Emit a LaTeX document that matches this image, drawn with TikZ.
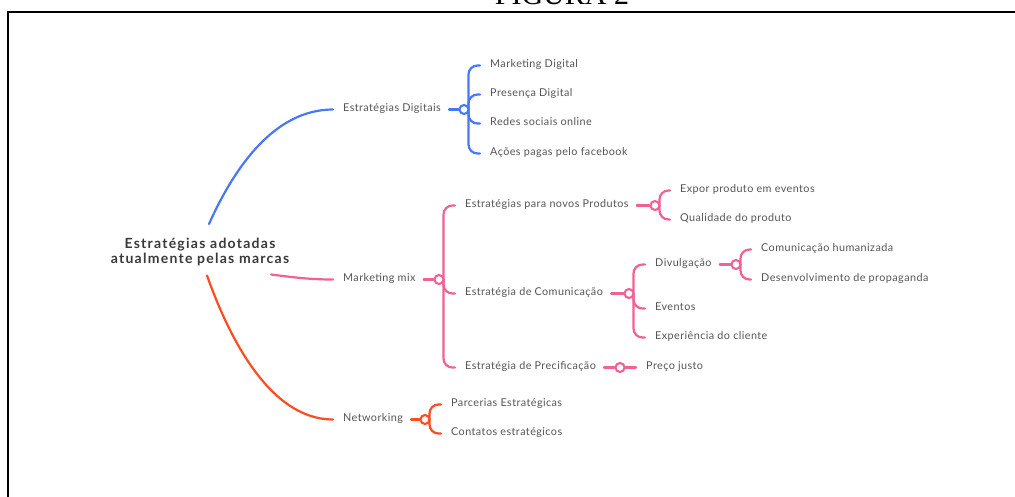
\documentclass[tikz,border=0pt]{standalone}
\usepackage{fontspec}
\setmainfont{Lato}
\newfontfamily\lblfont[LetterSpace=4]{Lato}
\newfontfamily\rootfont[LetterSpace=9]{Lato}
\newfontfamily\titlefont{Liberation Serif}
\usetikzlibrary{calc,backgrounds}
\definecolor{cblue}{RGB}{72,120,248}
\definecolor{cpink}{RGB}{240,98,148}
\definecolor{cred}{RGB}{250,78,34}
\definecolor{ctext}{RGB}{85,85,85}
\definecolor{croot}{RGB}{58,58,58}
\begin{document}
\begin{tikzpicture}[x=1pt,y=-1pt,
 lbl/.style={anchor=west, inner sep=0pt, text height=4pt, text depth=0pt,
   font=\lblfont\fontsize{10.8}{12}\selectfont, text=ctext},
 knot/.style={circle, fill=white, minimum size=9pt, inner sep=0pt, line width=2.1pt},
 link/.style={line width=2.2pt, line cap=round},
 arm/.style={line width=2.2pt, line cap=round, rounded corners=9pt},
]
\useasboundingbox (0,0) rectangle (1015,496);
% title and frame
\node[font=\titlefont\fontsize{30}{30}\selectfont, anchor=base, inner sep=0pt] (title) at (562,4) {FIGURA 2};
\draw[line width=1.6pt] (1016,12) -- (8,12) -- (8,497);
\begin{scope}[yshift=-1.5pt]
% root
\node[font=\rootfont\bfseries\fontsize{14}{15.5}\selectfont, text=croot, align=center, inner sep=0pt] (root) at (200,250.5) {Estratégias adotadas\\atualmente pelas marcas};
% blue branch
\node[lbl] (sD) at (343,108) {Estratégias Digitais};
\node[lbl] (m1) at (490,64) {Marketing Digital};
\node[lbl] (m2) at (490,93) {Presença Digital};
\node[lbl] (m3) at (490,122) {Redes sociais online};
\node[lbl] (m4) at (490,152) {Ações pagas pelo facebook};
\node[knot, draw=cblue] (kB) at (464,108) {};
% pink branch
\node[lbl] (mm) at (343,278) {Marketing mix};
\node[knot, draw=cpink] (kM) at (439,278) {};
\node[lbl] (np) at (465,204) {Estratégias para novos Produtos};
\node[knot, draw=cpink] (kP) at (655,204) {};
\node[lbl] (ex) at (680,189) {Expor produto em eventos};
\node[lbl] (ql) at (680,218) {Qualidade do produto};
\node[lbl] (ec) at (465,292) {Estratégia de Comunicação};
\node[knot, draw=cpink] (kC) at (629,292) {};
\node[lbl] (dv) at (655,263) {Divulgação};
\node[knot, draw=cpink] (kV) at (736,263) {};
\node[lbl] (ch) at (761,248) {Comunicação humanizada};
\node[lbl] (dp) at (761,278) {Desenvolvimento de propaganda};
\node[lbl] (ev) at (655,307) {Eventos};
\node[lbl] (xp) at (655,336) {Experiência do cliente};
\node[lbl] (pr) at (465,366) {Estratégia de Precificação};
\node[knot, draw=cpink] (kR) at (620,366) {};
\node[lbl] (pj) at (646,366) {Preço justo};
% red branch
\node[lbl] (nw) at (343,418) {Networking};
\node[knot, draw=cred] (kN) at (425,418) {};
\node[lbl] (pe) at (451,403) {Parcerias Estratégicas};
\node[lbl] (ce) at (451,432) {Contatos estratégicos};
\end{scope}

\begin{scope}[on background layer]
\fill[white] (0,0) rectangle (1015,496);
% root connectors
\draw[link, cblue] ($(root.center)+(9,-28)$) .. controls +(26,-58) and +(-58,0) .. ($(sD.west)+(-10,0)$);
\draw[link, cpink] ($(root.center)+(71,22.5)$) .. controls +(24,3) and +(-23,0) .. ($(mm.west)+(-10,0)$);
\draw[link, cred] ($(root.center)+(7,23.5)$) .. controls +(22,62) and +(-63,0) .. ($(nw.west)+(-10,0)$);
% label to knot
\draw[link, cblue] ($(sD.east)+(8,0)$) -- (kB);
\draw[link, cpink] ($(mm.east)+(8,0)$) -- (kM);
\draw[link, cpink] ($(np.east)+(8,0)$) -- (kP);
\draw[link, cpink] ($(ec.east)+(8,0)$) -- (kC);
\draw[link, cpink] ($(dv.east)+(8,0)$) -- (kV);
\draw[link, cpink] ($(pr.east)+(8,0)$) -- (kR) -- ($(pj.west)+(-10,0)$);
\draw[link, cred] ($(nw.east)+(8,0)$) -- (kN);
% arms
\foreach \c in {m1,m2,m3,m4}
  \draw[arm, cblue] ($(kB.center)+(4.5,0)$) |- ($(\c.west)+(-10,0)$);
\foreach \c in {np,ec,pr}
  \draw[arm, cpink] ($(kM.center)+(4.5,0)$) |- ($(\c.west)+(-10,0)$);
\foreach \c in {ex,ql}
  \draw[arm, cpink] ($(kP.center)+(4.5,0)$) |- ($(\c.west)+(-10,0)$);
\foreach \c in {dv,ev,xp}
  \draw[arm, cpink] ($(kC.center)+(4.5,0)$) |- ($(\c.west)+(-10,0)$);
\foreach \c in {ch,dp}
  \draw[arm, cpink] ($(kV.center)+(4.5,0)$) |- ($(\c.west)+(-10,0)$);
\foreach \c in {pe,ce}
  \draw[arm, cred] ($(kN.center)+(4.5,0)$) |- ($(\c.west)+(-10,0)$);
\end{scope}
\end{tikzpicture}
\end{document}
